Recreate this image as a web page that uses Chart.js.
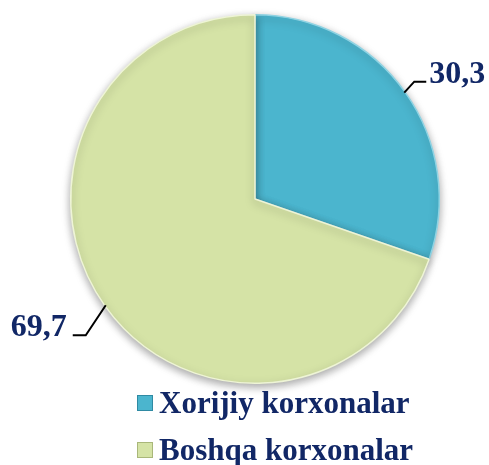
<!DOCTYPE html>
<html>
<head>
<meta charset="utf-8">
<script src="https://cdn.jsdelivr.net/npm/chart.js@4/dist/chart.umd.min.js"></script>
<style>
  html, body { margin: 0; padding: 0; background: #fff; }
  #wrap { position: relative; width: 489px; height: 465px; }
  #chart { position: absolute; left: 0; top: 0; }
  .legend { position: absolute; left: 137px; font: bold 31px "Liberation Serif", "Times New Roman", serif; color: #112766; white-space: nowrap; }
  .legend span.box { display: inline-block; width: 16px; height: 16px; margin-right: 6px; vertical-align: 2px; box-sizing: border-box; }
</style>
</head>
<body>
<div id="wrap">
  <canvas id="chart" width="489" height="465"></canvas>
  <div id="legend"></div>
</div>
<script>
// Shares of enterprises
const categories = ['Xorijiy korxonalar', 'Boshqa korxonalar'];
const shares = [30.3, 69.7];
const shareLabels = ['30,3', '69,7'];
const sliceColors = ['#4bb5ce', '#d5e3a6'];

const textColor = '#112766';
const labelFont = 'bold 32px "Liberation Serif", "Times New Roman", serif';

// leader lines + value labels, anchored at the middle of each slice
const valueLabels = {
    id: 'valueLabels',
    afterDatasetsDraw(chart) {
        const ctx = chart.ctx;
        const arcs = chart.getDatasetMeta(0).data;
        ctx.save();
        ctx.font = labelFont;
        ctx.fillStyle = textColor;
        ctx.strokeStyle = '#000';
        ctx.lineWidth = 2;
        ctx.textBaseline = 'alphabetic';
        arcs.forEach(function(arc, i) {
            const a = (arc.startAngle + arc.endAngle) / 2;
            const r = arc.outerRadius;
            const sx = arc.x + Math.cos(a) * (r - 1);
            const sy = arc.y + Math.sin(a) * (r - 1);
            ctx.beginPath();
            if (i === 0) {
                ctx.moveTo(sx, sy);
                ctx.lineTo(sx + 10, sy - 11);
                ctx.lineTo(sx + 22, sy - 11);
                ctx.stroke();
                ctx.textAlign = 'left';
                ctx.fillText(shareLabels[i], sx + 25, sy - 10);
            } else {
                ctx.moveTo(sx, sy);
                ctx.lineTo(sx - 20, sy + 30);
                ctx.lineTo(sx - 33, sy + 30);
                ctx.stroke();
                ctx.textAlign = 'right';
                ctx.fillText(shareLabels[i], sx - 39, sy + 31);
            }
        });
        ctx.restore();
    }
};

// soft shadow under the pie
const pieShadow = {
    id: 'pieShadow',
    beforeDatasetsDraw(chart) {
        const ctx = chart.ctx;
        ctx.save();
        ctx.shadowColor = 'rgba(0,0,0,0.35)';
        ctx.shadowBlur = 8;
        ctx.shadowOffsetY = 3;
    },
    afterDatasetsDraw(chart) {
        chart.ctx.restore();
    }
};

const ctx = document.getElementById('chart').getContext('2d');
new Chart(ctx, {
    type: 'pie',
    data: {
        labels: categories,
        datasets: [{
            data: shares,
            backgroundColor: sliceColors,
            borderColor: ['#8fd3e3', '#eef4d6'],
            borderWidth: 1.5
        }]
    },
    options: {
        responsive: false,
        animation: false,
        layout: { padding: { top: 14, bottom: 81, left: 21, right: 0 } },
        plugins: {
            legend: { display: false },
            tooltip: { enabled: false }
        }
    },
    plugins: [pieShadow, valueLabels]
});

// legend
const legend = document.getElementById('legend');
const legendTops = [385, 432];
categories.forEach(function(name, i) {
    const row = document.createElement('div');
    row.className = 'legend';
    row.style.top = legendTops[i] + 'px';
    const box = document.createElement('span');
    box.className = 'box';
    box.style.background = sliceColors[i];
    box.style.border = '1px solid ' + (i === 0 ? '#2f8aa3' : '#a9b77a');
    row.appendChild(box);
    row.appendChild(document.createTextNode(name));
    legend.appendChild(row);
});
</script>
</body>
</html>
